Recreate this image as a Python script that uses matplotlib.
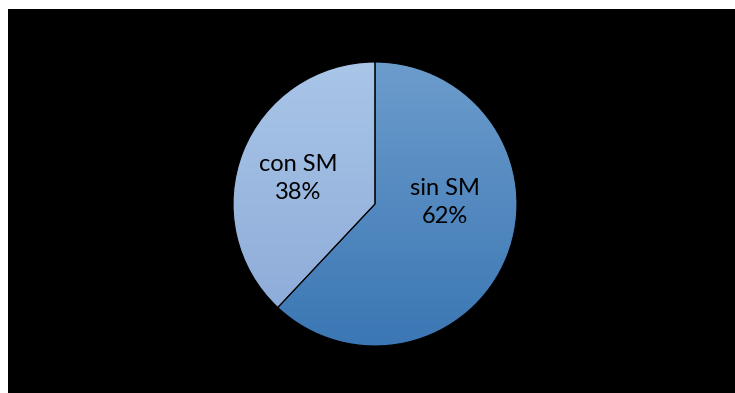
import numpy as np
import matplotlib.pyplot as plt
from matplotlib.colors import LinearSegmentedColormap

labels = ["sin SM", "con SM"]
values = [62, 38]
# top / bottom colour of each slice's vertical gradient
grad_top = ["#6c9ccc", "#a9c5e8"]
grad_bottom = ["#3b77b4", "#8aa9d6"]
label_pos = [(0.49, 0.01), (-0.54, 0.18)]

W, H = 735, 393
fig = plt.figure(figsize=(W / 100, H / 100), dpi=100, facecolor="white")

# black panel, with a thin white margin on the left and top
bg = fig.add_axes([8 / W, 0, 1 - 8 / W, (H - 9) / H], zorder=-1)
bg.set_facecolor("black")
bg.set_xticks([])
bg.set_yticks([])
for s in bg.spines.values():
    s.set_visible(False)

cx, cy, r = 375, 204, 142
ax = fig.add_axes([(cx - r) / W, (H - cy - r) / H, 2 * r / W, 2 * r / H])
ax.set_facecolor("none")

wedges, _ = ax.pie(values, startangle=90, counterclock=False, radius=1,
                   wedgeprops=dict(edgecolor="black", linewidth=0.8))

grad = np.linspace(1, 0, 256).reshape(-1, 1)
for w, top, bot in zip(wedges, grad_top, grad_bottom):
    w.set_facecolor("none")
    cmap = LinearSegmentedColormap.from_list("g", [bot, top])
    im = ax.imshow(grad, cmap=cmap, extent=(-1, 1, -1, 1), aspect="auto",
                   origin="upper", zorder=1, vmin=0, vmax=1)
    im.set_clip_path(w)
    w.set_zorder(2)

for lab, v, (x, y) in zip(labels, values, label_pos):
    ax.text(x, y, f"{lab}\n{v}%", ha="center", va="center", fontsize=17,
            family=["Lato", "DejaVu Sans"], color="black", linespacing=1.45,
            zorder=3)

ax.set_xlim(-1, 1)
ax.set_ylim(-1, 1)
ax.set_aspect("equal")
ax.axis("off")

fig.savefig("out.png", dpi=100, facecolor="white")
